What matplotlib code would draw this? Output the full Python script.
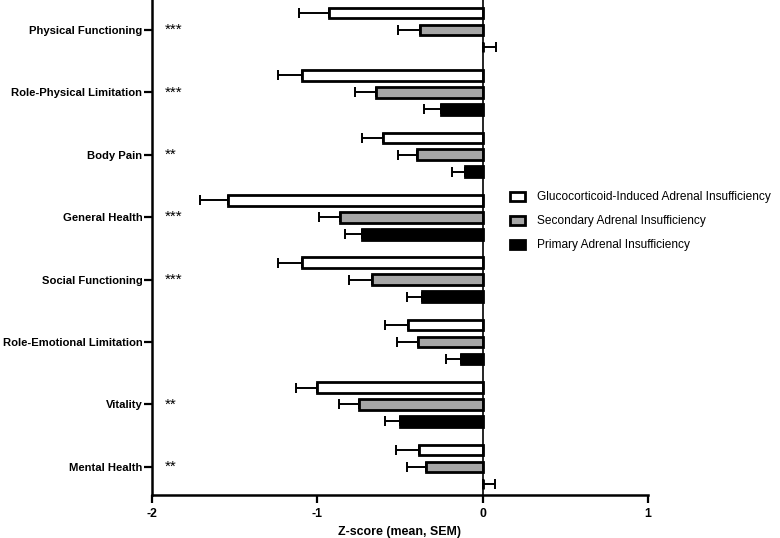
import matplotlib.pyplot as plt
import numpy as np

plt.rcParams['font.family'] = ['Liberation Sans', 'DejaVu Sans']

domains = ['Physical Functioning', 'Role-Physical Limitation', 'Body Pain',
           'General Health', 'Social Functioning', 'Role-Emotional Limitation',
           'Vitality', 'Mental Health']
stars = ['***', '***', '**', '***', '***', '', '**', '**']

gc_mean = [-0.93, -1.09, -0.60, -1.54, -1.09, -0.45, -1.00, -0.385]
gc_sem = [0.18, 0.15, 0.13, 0.17, 0.15, 0.14, 0.13, 0.14]
sec_mean = [-0.38, -0.645, -0.40, -0.86, -0.67, -0.39, -0.75, -0.34]
sec_sem = [0.13, 0.13, 0.11, 0.13, 0.14, 0.13, 0.12, 0.12]
pri_mean = [0.0, -0.255, -0.107, -0.73, -0.365, -0.13, -0.50, 0.0]
pri_sem = [0.08, 0.10, 0.077, 0.10, 0.09, 0.09, 0.09, 0.073]

series = [
    ('Glucocorticoid-Induced Adrenal Insufficiency', gc_mean, gc_sem, 'white'),
    ('Secondary Adrenal Insufficiency', sec_mean, sec_sem, '#a6a6a6'),
    ('Primary Adrenal Insufficiency', pri_mean, pri_sem, 'black'),
]

fig = plt.figure(figsize=(7.8, 5.38), dpi=100)
ax = fig.add_axes([152 / 780, 1 - 495 / 538, (648 - 152) / 780, 495 / 538])

y = np.arange(len(domains))
offsets = [-0.272, 0.0, 0.272]
for (name, mean, sem, color), off in zip(series, offsets):
    mean = np.array(mean)
    sem = np.array(sem)
    # error bar only on the outer side of each bar
    xerr = np.where(mean < 0, [sem, np.zeros_like(sem)], [np.zeros_like(sem), sem])
    ax.barh(y + off, mean, height=0.17, color=color, edgecolor='black',
            linewidth=2.0, label=name, zorder=3)
    ax.errorbar(mean, y + off, xerr=xerr, fmt='none', ecolor='black',
                elinewidth=1.4, capsize=3.5, capthick=1.4, zorder=2)

for i, s in enumerate(stars):
    ax.text(-1.92, y[i], s, ha='left', va='center', fontsize=11)

ax.axvline(0, color='black', linewidth=1.2, zorder=4)
ax.set_xlim(-2, 1)
ax.set_ylim(7.45, -0.48)
ax.set_xticks([-2, -1, 0, 1])
ax.set_xticklabels(['-2', '-1', '0', '1'], fontweight='bold', fontsize=8.8)
ax.set_yticks(y)
ax.set_yticklabels(domains, fontweight='bold', fontsize=8.1)
ax.set_xlabel('Z-score (mean, SEM)', fontweight='bold', fontsize=8.9)
ax.tick_params(width=1.6, length=6)
ax.tick_params(axis='y', pad=1)
for side in ['top', 'right']:
    ax.spines[side].set_visible(False)
for side in ['left', 'bottom']:
    ax.spines[side].set_linewidth(1.8)

leg = ax.legend(loc='upper left', bbox_to_anchor=(0.7, 0.635), frameon=False,
                fontsize=8.6, handlelength=1.3, handleheight=0.8, labelspacing=1.0,
                handletextpad=1.0)

fig.savefig('out.png', dpi=100)
